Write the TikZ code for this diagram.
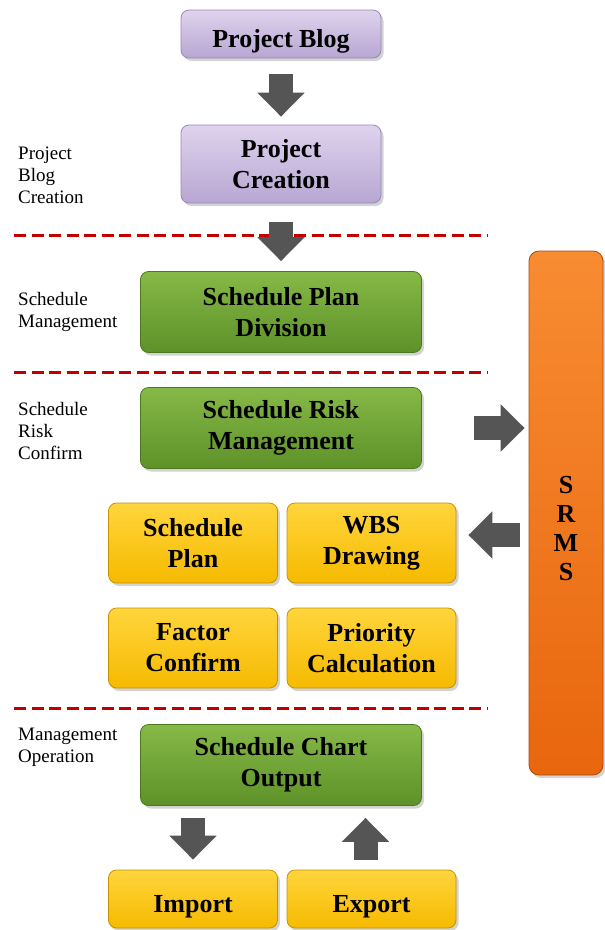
\documentclass[tikz,border=0pt]{standalone}
\usepackage{fontspec}
\setmainfont{Liberation Serif}
\usetikzlibrary{arrows.meta,shadows}
\definecolor{lavtop}{HTML}{DED3EE}
\definecolor{lavbot}{HTML}{B8A6D2}
\definecolor{lavedge}{HTML}{9A88B6}
\definecolor{grntop}{HTML}{86B947}
\definecolor{grnbot}{HTML}{5E9128}
\definecolor{grnedge}{HTML}{4C7820}
\definecolor{yeltop}{HTML}{FFD53C}
\definecolor{yelbot}{HTML}{F6BA00}
\definecolor{yeledge}{HTML}{C69200}
\definecolor{orgtop}{HTML}{F88C32}
\definecolor{orgbot}{HTML}{E8660E}
\definecolor{orgedge}{HTML}{AE4C08}
\definecolor{arrowgray}{HTML}{555555}
\definecolor{dashred}{HTML}{C00000}
\newcommand{\boxfont}{\fontsize{26}{31}\selectfont\bfseries}
\newcommand{\sidefont}{\fontsize{19}{22}\selectfont}
\tikzstyle{basebox}=[rectangle,rounded corners=8pt,inner sep=0pt,align=center,font=\boxfont,text=black,line width=0.8pt,drop shadow={shadow xshift=2.5pt,shadow yshift=-3pt,opacity=0.35}]
\tikzstyle{singleline}=[text height=27pt,text depth=0pt]
\tikzstyle{projbox}=[basebox,minimum width=200pt,draw=lavedge,top color=lavtop,bottom color=lavbot]
\tikzstyle{stepgreen}=[basebox,minimum width=281pt,minimum height=81pt,draw=grnedge,top color=grntop,bottom color=grnbot]
\tikzstyle{taskyellow}=[basebox,minimum width=169pt,minimum height=80pt,draw=yeledge,top color=yeltop,bottom color=yelbot]
\tikzstyle{srmsbar}=[basebox,rounded corners=10pt,minimum width=74pt,minimum height=524pt,draw=orgedge,top color=orgtop,bottom color=orgbot]
\tikzstyle{sidetext}=[anchor=west,align=left,font=\sidefont,inner sep=0pt]
\tikzstyle{divider}=[draw=dashred,line width=3pt,dash pattern=on 12pt off 5.5pt]
\tikzstyle{blockarrow}=[line width=24pt,draw=arrowgray,-{Triangle[width=46pt,length=24pt]}]

\begin{document}
\begin{tikzpicture}[x=1pt,y=1pt,node distance=130pt]
            \useasboundingbox (0,0) rectangle (605,-930);
            \node (blog)[projbox,singleline,minimum height=48pt] at (281,-34) {Project Blog};
            \node (creation)[projbox,minimum height=78pt,below of=blog]{Project\\Creation};
            \node (plandiv)[stepgreen,below of=creation,yshift=-18pt]{Schedule Plan\\Division};
            \node (riskmgmt)[stepgreen,below of=plandiv,yshift=14pt]{Schedule Risk\\Management};
            \node (splan)[taskyellow,below of=riskmgmt,yshift=15pt,xshift=-88pt]{Schedule\\Plan};
            \node (wbs)[taskyellow,below of=riskmgmt,yshift=15pt,xshift=90.5pt]{WBS\\Drawing};
            \node (factor)[taskyellow,below of=splan,yshift=25pt]{Factor\\Confirm};
            \node (priority)[taskyellow,below of=wbs,yshift=25pt]{Priority\\Calculation};
            \node (chart)[stepgreen,below of=factor,xshift=88pt,yshift=13pt]{Schedule Chart\\Output};
            \node (import)[taskyellow,singleline,minimum height=58pt,below of=chart,xshift=-88pt,yshift=-4pt]{Import};
            \node (export)[taskyellow,singleline,minimum height=58pt,below of=chart,xshift=90.5pt,yshift=-4pt]{Export};
            \node (srms)[srmsbar,right of=riskmgmt,xshift=155pt,yshift=-85pt,label={[align=center,font=\fontsize{26}{29}\selectfont\bfseries,yshift=-16pt]center:S\\R\\M\\S}]{};
            % stage labels on the left
            \node (lblblog)[left of=creation,xshift=-133pt,yshift=-11pt,sidetext]{Project\\Blog\\Creation};
            \node (lblplan)[left of=plandiv,xshift=-133pt,sidetext]{Schedule\\Management};
            \node (lblrisk)[left of=riskmgmt,xshift=-133pt,yshift=-3pt,sidetext]{Schedule\\Risk\\Confirm};
            \node (lbloper)[left of=chart,xshift=-133pt,yshift=18pt,sidetext]{Management\\Operation};
            % stage dividers
            \draw [divider] (14,-235) -- (488,-235);
            \draw [divider] (14,-372) -- (488,-372);
            \draw [divider] (14,-708) -- (488,-708);
            \draw [blockarrow,shorten <=16pt,shorten >=8pt] (blog) -- (creation);
            \draw [blockarrow,shorten <=19pt,shorten >=10pt] (creation) -- (plandiv);
            \draw [blockarrow,shorten <=52pt,shorten >=4pt] (riskmgmt.east) -- (riskmgmt.east -| srms.west);
            \draw [blockarrow,shorten <=9pt,shorten >=12pt] ([yshift=8pt]wbs.east -| srms.west) -- ([yshift=8pt]wbs.east);
            \draw [blockarrow,shorten <=12pt,shorten >=10pt] (chart.south -| import.north) -- (import.north);
            \draw [blockarrow,shorten <=10pt,shorten >=12pt] ([xshift=-6pt]export.north) -- ([xshift=-6pt]export.north |- chart.south);
        \end{tikzpicture}
\end{document}
